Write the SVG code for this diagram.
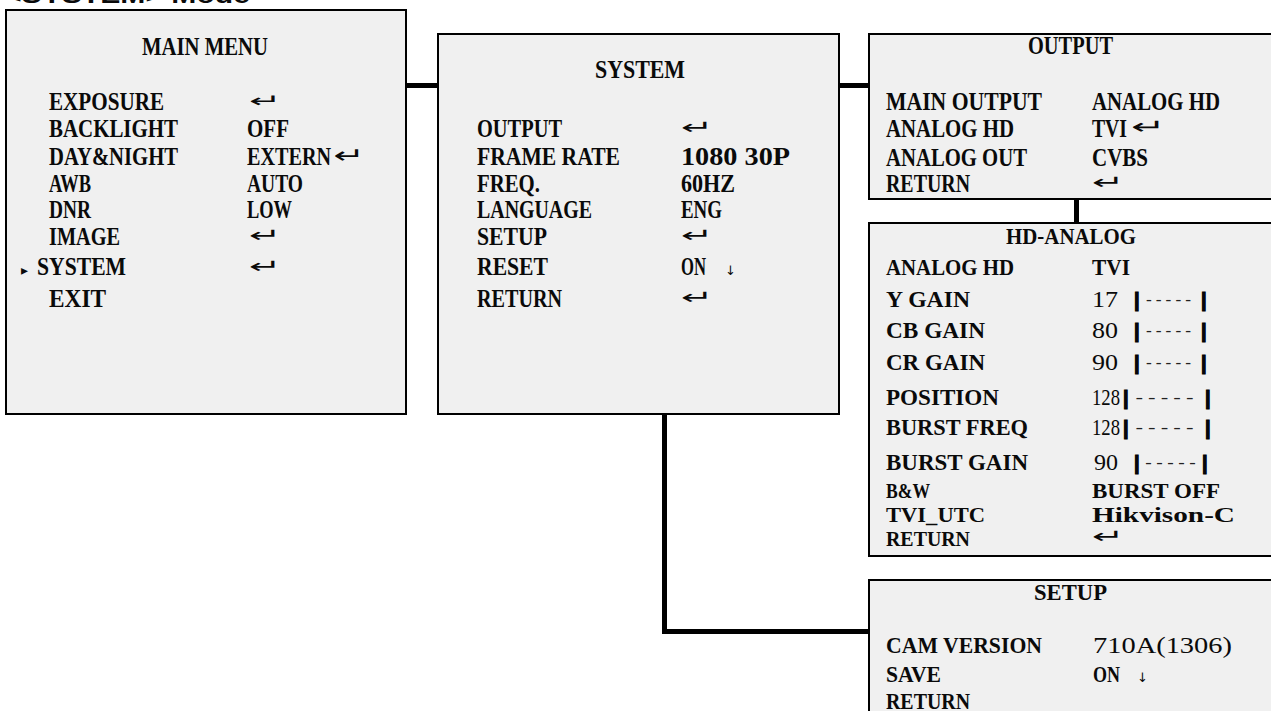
<svg xmlns="http://www.w3.org/2000/svg" width="1271" height="711" viewBox="0 0 1271 711">
<style>
.box{fill:#f0f0f0;stroke:#000;stroke-width:2}
.conn{fill:none;stroke:#000;stroke-width:5}
text{font-family:"Liberation Serif",serif;font-weight:bold;fill:#0a0a0a}
.f26{font-size:26px}
.f25{font-size:25px}
.f24{font-size:24px}
.f21{font-size:21px}
.n{font-weight:normal}
.sym{font-family:"DejaVu Sans",sans-serif;font-weight:normal;font-size:26px}
.tri{font-family:"DejaVu Sans",sans-serif;font-weight:normal;font-size:14px}
.arr{font-family:"DejaVu Sans",sans-serif;font-weight:normal;font-size:13px}
.bar{font-family:"Liberation Sans",sans-serif;font-weight:bold;font-size:20px;stroke:#000;stroke-width:1.2}
.dash{font-family:"Liberation Mono",monospace;font-weight:normal;font-size:16px;fill:#222}
.head{font-family:"Liberation Sans",sans-serif;font-weight:bold;font-size:24px}
</style>
<rect x="0" y="0" width="1271" height="711" fill="#fff"/>
<text class="head" x="4" y="3" textLength="246" lengthAdjust="spacingAndGlyphs">&lt;SYSTEM&gt; Mode</text>

<g id="connectors">
<path class="conn" d="M406,85.5 H438"/>
<path class="conn" d="M839,85.5 H869"/>
<path class="conn" d="M1076.5,199 V223"/>
<path class="conn" d="M664.5,414 V631.5 H869"/>
</g>

<g id="main-menu">
<rect class="box" x="6" y="10" width="400" height="404"/>
<text class="f26" x="142" y="55" textLength="126" lengthAdjust="spacingAndGlyphs">MAIN MENU</text>
<text class="f26" x="49" y="110" textLength="115" lengthAdjust="spacingAndGlyphs">EXPOSURE</text>
<text class="sym" transform="translate(249,107) scale(1.5,0.7)">↵</text>
<text class="f26" x="49" y="137" textLength="129" lengthAdjust="spacingAndGlyphs">BACKLIGHT</text>
<text class="f26" x="247" y="137" textLength="42" lengthAdjust="spacingAndGlyphs">OFF</text>
<text class="f26" x="49" y="165" textLength="129" lengthAdjust="spacingAndGlyphs">DAY&amp;NIGHT</text>
<text class="f26" x="247" y="165" textLength="84" lengthAdjust="spacingAndGlyphs">EXTERN</text>
<text class="sym" transform="translate(333,163) scale(1.45,0.85)">↵</text>
<text class="f26" x="49" y="192" textLength="42" lengthAdjust="spacingAndGlyphs">AWB</text>
<text class="f26" x="247" y="192" textLength="56" lengthAdjust="spacingAndGlyphs">AUTO</text>
<text class="f26" x="49" y="218" textLength="42" lengthAdjust="spacingAndGlyphs">DNR</text>
<text class="f26" x="247" y="218" textLength="45" lengthAdjust="spacingAndGlyphs">LOW</text>
<text class="f26" x="49" y="245" textLength="71" lengthAdjust="spacingAndGlyphs">IMAGE</text>
<text class="sym" transform="translate(249,242) scale(1.5,0.75)">↵</text>
<text class="tri" x="21" y="275">▸</text>
<text class="f26" x="37" y="275" textLength="89" lengthAdjust="spacingAndGlyphs">SYSTEM</text>
<text class="sym" transform="translate(249,273) scale(1.5,0.75)">↵</text>
<text class="f26" x="49" y="307" textLength="57" lengthAdjust="spacingAndGlyphs">EXIT</text>
</g>

<g id="system">
<rect class="box" x="438" y="34" width="401" height="380"/>
<text class="f26" x="595" y="78" textLength="90" lengthAdjust="spacingAndGlyphs">SYSTEM</text>
<text class="f26" x="477" y="137" textLength="85" lengthAdjust="spacingAndGlyphs">OUTPUT</text>
<text class="sym" transform="translate(681,134) scale(1.5,0.75)">↵</text>
<text class="f26" x="477" y="165" textLength="143" lengthAdjust="spacingAndGlyphs">FRAME RATE</text>
<text class="f26" x="681" y="165" textLength="109" lengthAdjust="spacingAndGlyphs">1080 30P</text>
<text class="f26" x="477" y="192" textLength="63" lengthAdjust="spacingAndGlyphs">FREQ.</text>
<text class="f26" x="681" y="192" textLength="54" lengthAdjust="spacingAndGlyphs">60HZ</text>
<text class="f26" x="477" y="218" textLength="115" lengthAdjust="spacingAndGlyphs">LANGUAGE</text>
<text class="f26" x="681" y="218" textLength="41" lengthAdjust="spacingAndGlyphs">ENG</text>
<text class="f26" x="477" y="245" textLength="70" lengthAdjust="spacingAndGlyphs">SETUP</text>
<text class="sym" transform="translate(681,242) scale(1.5,0.75)">↵</text>
<text class="f26" x="477" y="275" textLength="71" lengthAdjust="spacingAndGlyphs">RESET</text>
<text class="f26" x="681" y="275" textLength="25" lengthAdjust="spacingAndGlyphs">ON</text>
<text class="arr" x="725" y="275">↓</text>
<text class="f26" x="477" y="307" textLength="85" lengthAdjust="spacingAndGlyphs">RETURN</text>
<text class="sym" transform="translate(681,304) scale(1.5,0.75)">↵</text>
</g>

<g id="output">
<rect class="box" x="869" y="34" width="412" height="165"/>
<text class="f25" x="1028" y="54" textLength="85" lengthAdjust="spacingAndGlyphs">OUTPUT</text>
<text class="f25" x="886" y="110" textLength="156" lengthAdjust="spacingAndGlyphs">MAIN OUTPUT</text>
<text class="f25" x="1092" y="110" textLength="128" lengthAdjust="spacingAndGlyphs">ANALOG HD</text>
<text class="f25" x="886" y="137" textLength="128" lengthAdjust="spacingAndGlyphs">ANALOG HD</text>
<text class="f25" x="1092" y="137" textLength="35" lengthAdjust="spacingAndGlyphs">TVI</text>
<text class="sym" transform="translate(1131,134) scale(1.6,0.8)">↵</text>
<text class="f25" x="886" y="166" textLength="141" lengthAdjust="spacingAndGlyphs">ANALOG OUT</text>
<text class="f25" x="1092" y="166" textLength="56" lengthAdjust="spacingAndGlyphs">CVBS</text>
<text class="f25" x="886" y="192" textLength="84" lengthAdjust="spacingAndGlyphs">RETURN</text>
<text class="sym" transform="translate(1092,189) scale(1.5,0.75)">↵</text>
</g>

<g id="hd-analog">
<rect class="box" x="869" y="223" width="412" height="333"/>
<text class="f24" x="1006" y="244" textLength="130" lengthAdjust="spacingAndGlyphs">HD-ANALOG</text>
<text class="f24" x="886" y="275" textLength="128" lengthAdjust="spacingAndGlyphs">ANALOG HD</text>
<text class="f24" x="1092" y="275" textLength="38" lengthAdjust="spacingAndGlyphs">TVI</text>
<text class="f24" x="886" y="307" textLength="84" lengthAdjust="spacingAndGlyphs">Y GAIN</text>
<text class="f24 n" x="1092" y="307" textLength="26" lengthAdjust="spacingAndGlyphs">17</text>
<text class="bar" x="1134" y="307">|</text>
<text class="dash" x="1144" y="305" textLength="49" lengthAdjust="spacingAndGlyphs">-----</text>
<text class="bar" x="1201" y="307">|</text>
<text class="f24" x="886" y="338" textLength="99" lengthAdjust="spacingAndGlyphs">CB GAIN</text>
<text class="f24 n" x="1092" y="338" textLength="26" lengthAdjust="spacingAndGlyphs">80</text>
<text class="bar" x="1134" y="338">|</text>
<text class="dash" x="1144" y="336" textLength="49" lengthAdjust="spacingAndGlyphs">-----</text>
<text class="bar" x="1201" y="338">|</text>
<text class="f24" x="886" y="370" textLength="99" lengthAdjust="spacingAndGlyphs">CR GAIN</text>
<text class="f24 n" x="1092" y="370" textLength="26" lengthAdjust="spacingAndGlyphs">90</text>
<text class="bar" x="1134" y="370">|</text>
<text class="dash" x="1144" y="368" textLength="49" lengthAdjust="spacingAndGlyphs">-----</text>
<text class="bar" x="1201" y="370">|</text>
<text class="f24" x="886" y="405" textLength="113" lengthAdjust="spacingAndGlyphs">POSITION</text>
<text class="f24 n" x="1092" y="405" textLength="28" lengthAdjust="spacingAndGlyphs">128</text>
<text class="bar" x="1123" y="405">|</text>
<text class="dash" x="1133" y="403" textLength="63" lengthAdjust="spacingAndGlyphs">-----</text>
<text class="bar" x="1205" y="405">|</text>
<text class="f24" x="886" y="435" textLength="142" lengthAdjust="spacingAndGlyphs">BURST FREQ</text>
<text class="f24 n" x="1092" y="435" textLength="28" lengthAdjust="spacingAndGlyphs">128</text>
<text class="bar" x="1123" y="435">|</text>
<text class="dash" x="1133" y="433" textLength="63" lengthAdjust="spacingAndGlyphs">-----</text>
<text class="bar" x="1205" y="435">|</text>
<text class="f24" x="886" y="470" textLength="142" lengthAdjust="spacingAndGlyphs">BURST GAIN</text>
<text class="f24 n" x="1094" y="470" textLength="24" lengthAdjust="spacingAndGlyphs">90</text>
<text class="bar" x="1134" y="470">|</text>
<text class="dash" x="1143" y="468" textLength="55" lengthAdjust="spacingAndGlyphs">-----</text>
<text class="bar" x="1202" y="470">|</text>
<text class="f21" x="886" y="498" textLength="44" lengthAdjust="spacingAndGlyphs">B&amp;W</text>
<text class="f21" x="1092" y="498" textLength="128" lengthAdjust="spacingAndGlyphs">BURST OFF</text>
<text class="f21" x="886" y="522" textLength="99" lengthAdjust="spacingAndGlyphs">TVI_UTC</text>
<text class="f21" x="1092" y="522" textLength="143" lengthAdjust="spacingAndGlyphs">Hikvison-C</text>
<text class="f21" x="886" y="546" textLength="84" lengthAdjust="spacingAndGlyphs">RETURN</text>
<text class="sym" transform="translate(1092,543) scale(1.5,0.75)">↵</text>
</g>

<g id="setup">
<rect class="box" x="869" y="580" width="412" height="140"/>
<text class="f24" x="1034" y="600" textLength="73" lengthAdjust="spacingAndGlyphs">SETUP</text>
<text class="f24" x="886" y="653" textLength="156" lengthAdjust="spacingAndGlyphs">CAM VERSION</text>
<text class="f24 n" x="1093" y="653" textLength="139" lengthAdjust="spacingAndGlyphs">710A(1306)</text>
<text class="f24" x="886" y="682" textLength="55" lengthAdjust="spacingAndGlyphs">SAVE</text>
<text class="f24" x="1093" y="682" textLength="27" lengthAdjust="spacingAndGlyphs">ON</text>
<text class="arr" x="1137" y="682">↓</text>
<text class="f24" x="886" y="709" textLength="84" lengthAdjust="spacingAndGlyphs">RETURN</text>
</g>
</svg>
